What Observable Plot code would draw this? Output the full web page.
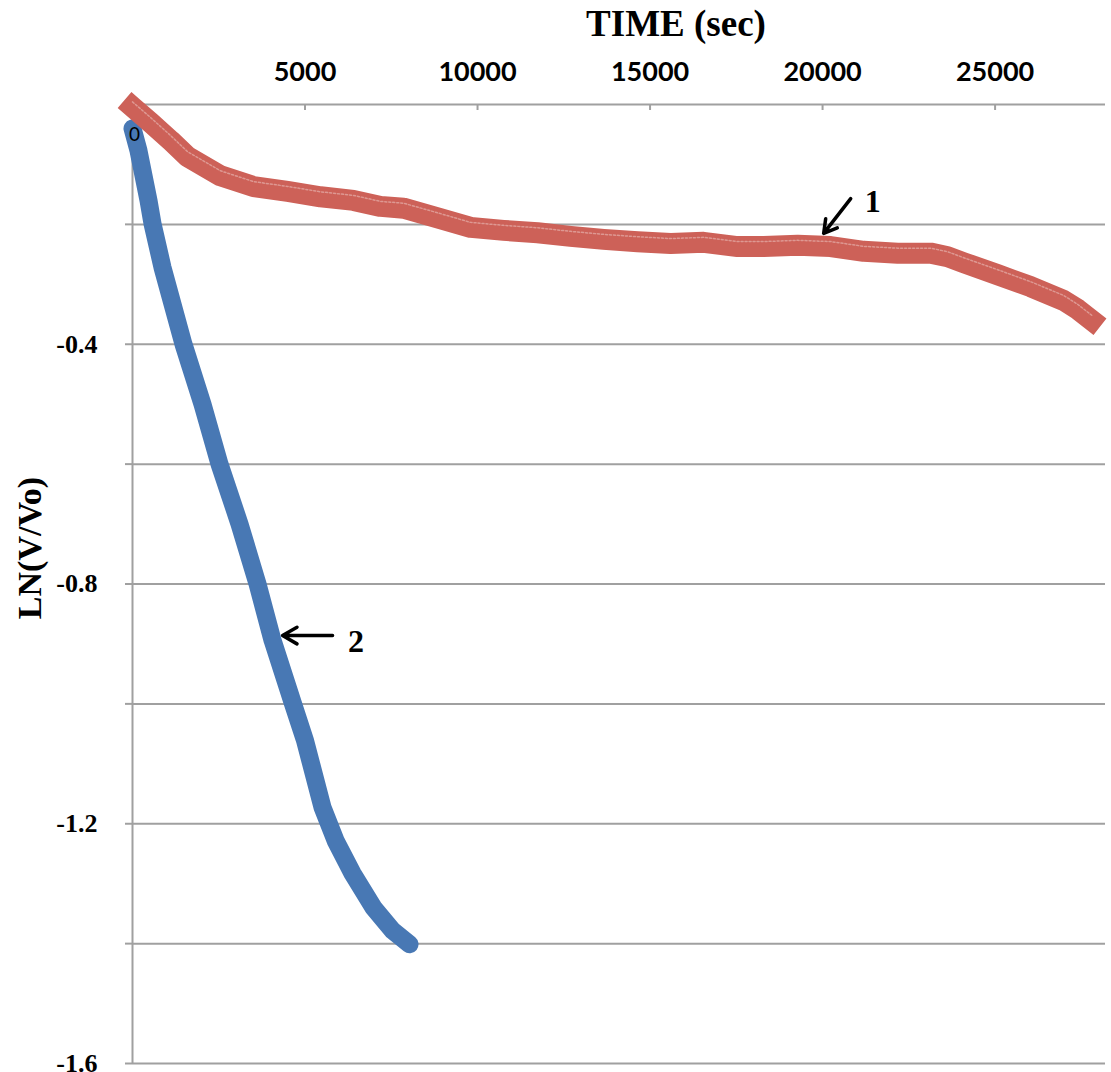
<!DOCTYPE html>
<html><head><meta charset="utf-8">
<script src="https://cdn.jsdelivr.net/npm/d3@7"></script>
<script src="https://cdn.jsdelivr.net/npm/@observablehq/plot@0.6"></script>
<style>body{margin:0;background:#fff;overflow:hidden}</style>
</head><body><div id="chart"></div>
<script>
// Series 1 (red)
const redTime  = [0, 522, 1102, 1594, 2551, 3508, 4493, 5450, 6406, 7189, 7856, 8842, 9798, 10755, 11741, 12698, 13654, 14640, 15597, 16553, 17539, 18293, 19278, 20235, 21192, 22177, 23134, 23627, 24091, 25077, 26033, 26990, 27400, 27800];
const redValue = [-0.004, -0.030, -0.060, -0.087, -0.119, -0.137, -0.145, -0.154, -0.160, -0.170, -0.173, -0.189, -0.205, -0.210, -0.214, -0.220, -0.225, -0.229, -0.232, -0.230, -0.237, -0.237, -0.235, -0.237, -0.245, -0.248, -0.248, -0.254, -0.264, -0.284, -0.304, -0.327, -0.342, -0.360];
// Series 2 (blue)
const blueTime  = [0, 174, 464, 580, 870, 1478, 2029, 2522, 3102, 3624, 4059, 4653, 5000, 5508, 5885, 6378, 6987, 7537, 8030];
const blueValue = [-0.040, -0.077, -0.160, -0.199, -0.272, -0.400, -0.500, -0.600, -0.700, -0.800, -0.894, -1.000, -1.061, -1.173, -1.228, -1.283, -1.340, -1.378, -1.401];

const xTicks = [5000, 10000, 15000, 20000, 25000];
const yGrid = [0, -0.2, -0.4, -0.6, -0.8, -1.0, -1.2, -1.4, -1.6];
const yLabels = [-0.4, -0.8, -1.2, -1.6];
const xTitle = "TIME (sec)";
const yTitle = "LN(V/Vo)";
const originLabel = [{t: 0, v: 0, label: "0"}];
const seriesLabels = [{t: 21452, v: -0.163, label: "1"}, {t: 6479, v: -0.897, label: "2"}];
const arrows = [
  {x1: 20815, y1: -0.157, x2: 20032, y2: -0.215},
  {x1: 5798, y1: -0.886, x2: 4349, y2: -0.886}
];

const red = redTime.map((t, i) => ({t, v: redValue[i]}));
const blue = blueTime.map((t, i) => ({t, v: blueValue[i]}));

const grid = "#a0a0a0";
const serif = "'Liberation Serif', 'Times New Roman', serif";

const chart = Plot.plot({
  width: 1111, height: 1072,
  marginLeft: 132, marginRight: 6, marginTop: 104, marginBottom: 9,
  x: {domain: [0, 28200]},
  y: {domain: [-1.6, 0]},
  marks: [
    Plot.ruleY(yGrid, {stroke: grid, strokeWidth: 2}),
    Plot.ruleX([0], {stroke: grid, strokeWidth: 2}),
    Plot.ruleX(xTicks, {y1: 0, y2: -0.01, stroke: grid, strokeWidth: 2}),
    Plot.axisY({ticks: yGrid, tickSize: 7, tickPadding: 28, stroke: grid, strokeWidth: 2,
      tickFormat: d => yLabels.includes(d) ? d.toFixed(1) : "",
      fontFamily: serif, fontWeight: "bold", fontSize: 26, fill: "black", label: null}),
    Plot.axisX({anchor: "top", ticks: xTicks, tickSize: 0, tickPadding: 24,
      tickFormat: d => String(d), fontFamily: "Lato", fontWeight: "bold", fontSize: 27, fill: "black", label: null}),
    Plot.line(blue, {x: "t", y: "v", stroke: "#4878b4", strokeWidth: 18, strokeLinecap: "round", strokeLinejoin: "round"}),
    Plot.line(red, {x: "t", y: "v", stroke: "#cd6158", strokeWidth: 21, strokeLinecap: "square", strokeLinejoin: "round"}),
    Plot.line(red, {x: "t", y: "v", stroke: "white", strokeOpacity: 0.35, strokeWidth: 1.5, strokeDasharray: "2 2", dy: -5}),
    Plot.text(originLabel, {x: "t", y: "v", text: "label", dx: 2, dy: 30, fontFamily: "Lato", fontSize: 19, fill: "black"}),
    Plot.arrow(arrows, {x1: "x1", y1: "y1", x2: "x2", y2: "y2", stroke: "black", strokeWidth: 3.5, headLength: 14}),
    Plot.text(seriesLabels, {x: "t", y: "v", text: "label", fontFamily: serif, fontWeight: "bold", fontSize: 32, fill: "black"}),
    Plot.text([xTitle], {frameAnchor: "top", dx: 57, dy: -69, lineAnchor: "bottom", text: d => d,
      fontFamily: serif, fontWeight: "bold", fontSize: 37, fill: "black"}),
    Plot.text([yTitle], {frameAnchor: "left", rotate: -90, dx: -102, dy: -36, lineAnchor: "middle", textAnchor: "middle",
      text: d => d, fontFamily: serif, fontWeight: "bold", fontSize: 34, fill: "black"})
  ]
});
document.getElementById("chart").appendChild(chart);
</script>
</body></html>
